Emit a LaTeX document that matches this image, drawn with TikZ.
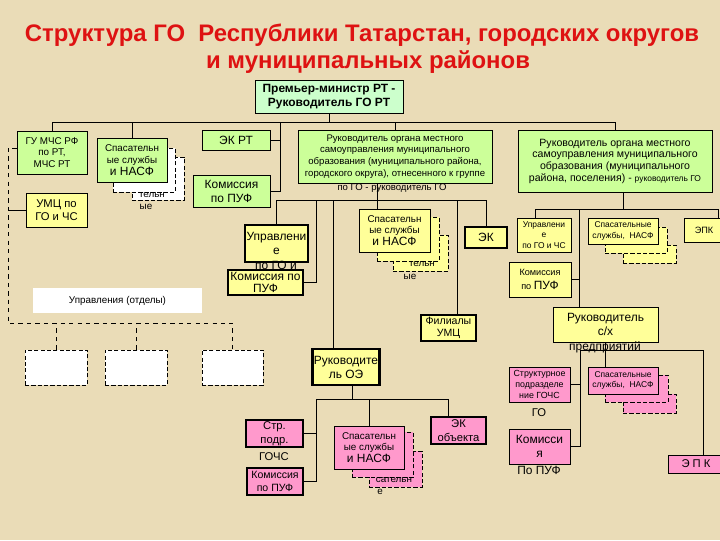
\documentclass[tikz,border=0pt]{standalone}
\usepackage{fontspec}
\setmainfont{Liberation Sans}
\usepackage{xcolor}
\usepackage{tikz}

\definecolor{bgtan}{RGB}{234,220,183}
\definecolor{titlered}{RGB}{222,18,18}
\definecolor{boxgreen}{RGB}{204,255,153}
\definecolor{palegreen}{RGB}{204,255,204}
\definecolor{boxyellow}{RGB}{255,255,153}
\definecolor{boxpink}{RGB}{255,153,204}

\newcommand{\ftiny}{\fontsize{6}{7.4}\selectfont}
\newcommand{\fsmall}{\fontsize{7}{8.3}\selectfont}
\newcommand{\fmid}{\fontsize{8.5}{10}\selectfont}

\begin{document}
\begin{tikzpicture}
     [
     x=0.025cm, y=-0.025cm,
     sz/.style 2 args={minimum width=#1*0.025cm, minimum height=#2*0.025cm},
     greenbox/.style={rectangle, draw=black, fill=boxgreen, line width=0.6pt, inner sep=1pt, align=center, font=\fsmall},
     premier/.style={greenbox, fill=palegreen, font=\fmid\bfseries},
     yellowbox/.style={greenbox, fill=boxyellow},
     yellowthick/.style={yellowbox, line width=1.6pt},
     pinkbox/.style={greenbox, fill=boxpink},
     pinkthick/.style={pinkbox, line width=1.6pt},
     backbox/.style={rectangle, draw=black, dash pattern=on 3pt off 1.5pt, fill=white, line width=0.6pt, inner sep=0pt},
     emptybox/.style={backbox},
     whitelabel/.style={rectangle, fill=white, inner sep=1pt, font=\fsmall},
     fragment/.style={inner sep=0pt, align=center, font=\fsmall},
     titletext/.style={inner sep=0pt, text=titlered, font=\fontsize{17}{20}\selectfont\bfseries},
     conn/.style={draw=black, line width=0.7pt},
     ]
  \fill[bgtan] (0,0) rectangle (720,540);
  \useasboundingbox (0,0) rectangle (720,540);

 % title
 \node at (362,35) [titletext] (title1) {Структура ГО\ \ Республики Татарстан, городских округов};
 \node at (368,62) [titletext] (title2) {и муниципальных районов};

 \node at (329,96.5) [premier, sz={148}{33}] (prem) {Премьер-министр РТ -\\Руководитель ГО РТ};

 % left column
 \node at (52,152.5) [greenbox, sz={70}{43}] (gu) {ГУ МЧС РФ\\по РТ,\\МЧС РТ};
 \node at (56.5,210) [yellowbox, sz={61}{34}, font=\fontsize{8}{9.5}\selectfont] (umc) {УМЦ по\\ГО и ЧС};
 \node at (117.5,300.5) [whitelabel, sz={169}{25}] (otd) {Управления (отделы)};
 \node at (56,367.5) [emptybox, sz={62}{35}] (otd1) {};
 \node at (136,367.5) [emptybox, sz={62}{35}] (otd2) {};
 \node at (232.5,367.5) [emptybox, sz={61}{35}] (otd3) {};

 \node at (158,178.5) [backbox, sz={52}{43}] (spl3) {};
 \node at (152,195) [fragment] (spl3t) {тельн};
 \node at (146,207) [fragment] (spl3u) {ые};
 \node at (144,170) [backbox, sz={62}{44}] (spl2) {};
 \node at (132,160) [greenbox, sz={70}{44}] (spl) {Спасательн\\ые службы\\{\fmid и НАСФ}};

 \node at (236,140) [greenbox, sz={68}{20}, font=\fmid] (ekrt) {ЭК РТ};
 \node at (231.5,191) [greenbox, sz={77}{32}, font=\fmid] (kpuf1) {Комиссия\\по ПУФ};

 % municipal district / city
 \node at (395,156.5) [greenbox, sz={194}{53}, font=\fontsize{6.8}{8.3}\selectfont] (rmo) {Руководитель органа местного\\самоуправления муниципального\\образования (муниципального района,\\городского округа), отнесенного к группе};
 \node at (392,188) [fragment, font=\fontsize{6.8}{8.3}\selectfont] (rmot) {по ГО - руководитель ГО};

 \node at (276.5,243.5) [yellowthick, sz={63}{37}, font=\fmid] (uprm) {Управлени\\е};
 \node at (276,265) [fragment, font=\fmid] (uprmt) {по ГО и};
 \node at (265.5,282.5) [yellowthick, sz={75}{25}, font=\fontsize{8.5}{9}\selectfont] (kpuf2) {Комиссия по\\ПУФ};

 \node at (420.5,253) [backbox, fill=boxyellow, sz={55}{36}] (spm3) {};
 \node at (422,264) [fragment] (spm3t) {тельн};
 \node at (410,277) [fragment] (spm3u) {ые};
 \node at (408,239) [backbox, fill=boxyellow, sz={62}{44}] (spm2) {};
 \node at (394.5,230.5) [yellowbox, sz={71}{43}] (spm) {Спасательн\\ые службы\\{\fmid и НАСФ}};

 \node at (486,237.5) [yellowthick, sz={42}{21}, font=\fmid] (ek) {ЭК};
 \node at (448.5,328) [yellowthick, sz={55}{26}, font=\fontsize{7.5}{9}\selectfont] (filumc) {Филиалы\\УМЦ};
 \node at (346,367) [yellowthick, sz={66}{36}, font=\fmid] (rukoe) {Руководите\\ль ОЭ};

 % object
 \node at (274.5,433.5) [pinkthick, sz={57}{27}, font=\fontsize{8}{10}\selectfont] (strp) {Стр.\\подр.};
 \node at (274,457) [fragment, font=\fontsize{8}{10}\selectfont] (strpt) {ГОЧС};
 \node at (275,481.5) [pinkthick, sz={56}{27}, font=\fontsize{7.5}{9.5}\selectfont] (kpuf3) {Комиссия\\по ПУФ};

 \node at (395.5,469) [backbox, fill=boxpink, sz={53}{36}] (spp3) {};
 \node at (394,480) [fragment] (spp3t) {сательн};
 \node at (380,492) [fragment] (spp3u) {е};
 \node at (382.5,454.5) [backbox, fill=boxpink, sz={61}{45}] (spp2) {};
 \node at (369,447.5) [pinkbox, sz={70}{43}] (spp) {Спасательн\\ые службы\\{\fmid и НАСФ}};

 \node at (458.5,430.5) [pinkthick, sz={55}{27}, font=\fontsize{8}{9.5}\selectfont] (ekob) {ЭК\\объекта};

 % municipal district / settlement
 \node at (615,161) [greenbox, sz={194}{62}, font=\fontsize{7.5}{8.3}\selectfont] (rmr) {Руководитель органа местного\\самоуправления муниципального\\образования (муниципального\\района, поселения) - {\ftiny руководитель ГО}};

 \node at (544,235) [yellowbox, sz={54}{34}, font=\ftiny] (uprr) {Управлени\\е\\по ГО и ЧС};
 \node at (649.5,254) [backbox, fill=boxyellow, sz={53}{18}] (spr3) {};
 \node at (636,240) [backbox, fill=boxyellow, sz={62}{26}] (spr2) {};
 \node at (623,231) [yellowbox, sz={70}{26}, font=\ftiny] (spr) {Спасательные\\службы,\ \ НАСФ};
 \node at (704,230) [yellowbox, sz={40}{24}, font=\fontsize{6.5}{8}\selectfont] (epk1) {ЭПК};
 \node at (540,279.5) [yellowbox, sz={62}{35}, font=\fontsize{6.5}{10}\selectfont] (kpufr) {Комиссия\\по {\fmid ПУФ}};
 \node at (605.5,324.5) [yellowbox, sz={105}{35}, font=\fmid] (rsx) {Руководитель\\с/х};
 \node at (605,347) [fragment, font=\fmid] (rsxt) {предприятий};

 \node at (539.5,384.5) [pinkbox, sz={61}{35}, font=\fontsize{6.3}{7.8}\selectfont] (strr) {Структурное\\подразделе\\ние ГОЧС};
 \node at (539,413) [fragment, font=\fontsize{8}{10}\selectfont] (strrt) {ГО};
 \node at (649.5,403.5) [backbox, fill=boxpink, sz={53}{19}] (sppr3) {};
 \node at (636.5,388.5) [backbox, fill=boxpink, sz={63}{27}] (sppr2) {};
 \node at (623,380.5) [pinkbox, sz={70}{27}, font=\ftiny] (sppr) {Спасательные\\службы,\ \ НАСФ};
 \node at (539.5,446.5) [pinkbox, sz={61}{35}, font=\fmid] (kpufr2) {Комисси\\я};
 \node at (539,470) [fragment, font=\fmid] (kpufr2t) {По ПУФ};
 \node at (696,464) [pinkbox, sz={56}{18}, font=\fontsize{8}{9}\selectfont] (epk2) {Э П К};

 % connectors, top level
 \coordinate (bus1) at (325,122);
 \draw[conn] (prem.south) -- (prem.south |- bus1);
 \draw[conn] (gu.north) -- (gu.north |- bus1) -- (rmr.north |- bus1) -- (rmr.north);
 \draw[conn] (spl.north) -- (spl.north |- bus1);
 \draw[conn] (rmo.north) -- (rmo.north |- bus1);
 \coordinate (vk) at (280,122);
 \draw[conn] (vk) |- (kpuf1.east);
 \draw[conn] (ekrt.east) -- (ekrt.east -| vk);

 % left, dashed
 \coordinate (lt) at (8,148);
 \coordinate (lb) at (8,323);
 \draw[conn, dashed] (gu.west |- lt) -- (lt) -- (lb) -- (otd3.north |- lb) -- (otd3.north);
 \draw[conn, dashed] (otd1.north) -- (otd1.north |- lb);
 \draw[conn, dashed] (otd2.north) -- (otd2.north |- lb);
 \draw[conn] (umc.west) -- (umc.west -| lt);

 % middle
 \coordinate (bus2) at (377,200);
 \draw[conn] (rmo.south -| bus2) -- (spm.north -| bus2);
 \draw[conn] (uprm.north) -- (uprm.north |- bus2) -- (ek.north |- bus2) -- (ek.north);
 \coordinate (vkp) at (316,200);
 \draw[conn] (vkp) |- (kpuf2.east);
 \coordinate (voe) at (333,200);
 \draw[conn] (voe) -- (voe |- rukoe.north);
 \coordinate (vfil) at (457,200);
 \draw[conn] (vfil) -- (vfil |- filumc.north);

 % object
 \coordinate (bus3) at (352,399);
 \coordinate (vps) at (316,399);
 \coordinate (vek) at (448,399);
 \draw[conn] (rukoe.south -| bus3) -- (bus3);
 \draw[conn] (vek |- ekob.north) -- (vek) -- (vps) |- (kpuf3.east);
 \draw[conn] (strp.east) -- (strp.east -| vps);
 \draw[conn] (spp.north) -- (spp.north |- bus3);

 % right
 \coordinate (bus4) at (623,209);
 \coordinate (vr1) at (535,209);
 \coordinate (vr3) at (718,209);
 \coordinate (vsx) at (579,209);
 \draw[conn] (rmr.south -| bus4) -- (bus4);
 \draw[conn] (vr1 |- uprr.north) -- (vr1) -- (vr3) -- (vr3 |- epk1.north);
 \draw[conn] (vsx) -- (vsx |- rsx.north);
 \draw[conn] (kpufr.east) -- (kpufr.east -| vsx);

 \coordinate (bus5) at (605,350);
 \coordinate (vp1) at (580,350);
 \coordinate (vp3) at (703,350);
 \draw[conn] (rsx.south -| bus5) -- (sppr.north -| bus5);
 \draw[conn] (vp3 |- epk2.north) -- (vp3) -- (vp1) |- (kpufr2.east);
 \draw[conn] (strr.east) -- (strr.east -| vp1);
 \end{tikzpicture}
\end{document}
